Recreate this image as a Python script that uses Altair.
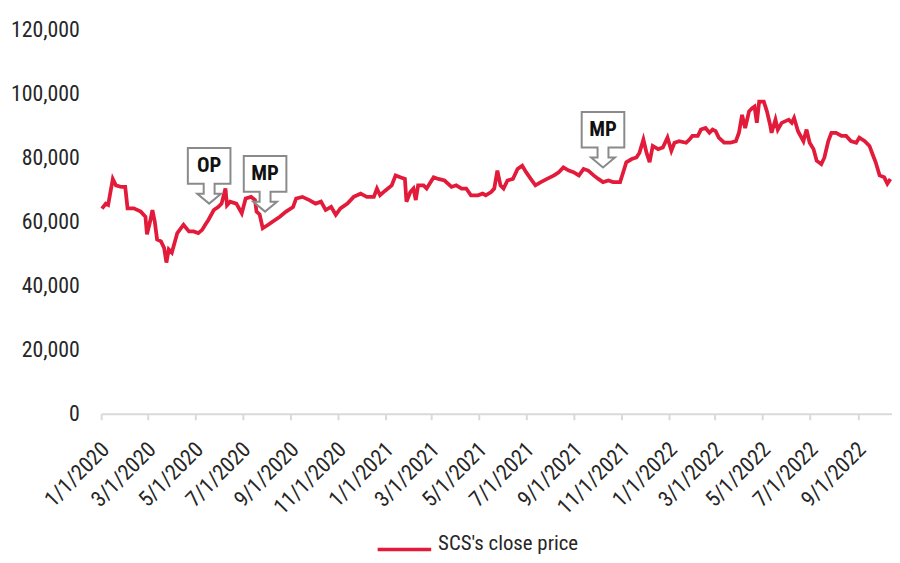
import altair as alt
import pandas as pd

# ---- data ----
start_date = "2020-01-01"
# days after 1/1/2020
day_offsets = [1, 6, 9, 15, 19, 26, 31, 34, 42, 51, 57, 59, 63, 66, 69, 72, 77, 81, 84, 87,
               91, 98, 106, 113, 119, 125, 130, 134, 138, 145, 151, 155, 160, 162, 166, 174, 181, 186, 193, 198,
               200, 204, 208, 215, 221, 230, 238, 247, 251, 259, 268, 276, 283, 289, 296, 302, 308, 317, 325, 334,
               342, 351, 355, 359, 366, 374, 379, 385, 391, 393, 398, 402, 405, 408, 415, 419, 428, 434, 442, 451,
               457, 464, 470, 476, 485, 491, 495, 502, 506, 510, 514, 518, 523, 530, 536, 542, 547, 553, 559, 566,
               574, 583, 589, 595, 602, 608, 615, 621, 627, 634, 640, 646, 653, 659, 668, 672, 676, 683, 689, 693,
               698, 702, 706, 710, 717, 723, 729, 734, 738, 744, 753, 757, 761, 768, 772, 778, 783, 787, 791, 795,
               802, 810, 817, 821, 825, 829, 834, 838, 841, 844, 847, 853, 857, 861, 863, 868, 871, 876, 885, 889,
               892, 897, 904, 908, 912, 917, 921, 927, 931, 936, 940, 946, 953, 959, 965, 972, 976, 983, 989, 993,
               997, 1002, 1008, 1012, 1016]
close_price = [64000, 65600, 65200, 73300, 71300, 70800, 70800, 64100, 64100, 63100, 61500, 56000, 60000, 63600, 60000, 54400, 53800, 51800, 47200, 51300,
               50300, 56400, 59000, 56900, 56900, 56400, 57400, 59000, 60500, 63600, 64600, 65600, 70300, 65100, 66200, 65600, 62600, 67200, 67700, 66700,
               63100, 62200, 57900, 59000, 60000, 61500, 63100, 64500, 67200, 67700, 66700, 65600, 66200, 63600, 64600, 62100, 64100, 65600, 67700, 68700,
               67700, 67700, 70300, 68200, 69700, 71300, 74400, 73800, 73300, 66200, 69200, 70300, 66700, 71300, 71300, 70300, 73800, 73300, 72800, 70800,
               71300, 70300, 70300, 68200, 68200, 68700, 68200, 69200, 70300, 75900, 71300, 70300, 72800, 73300, 76400, 77400, 75400, 73300, 71300, 72300,
               73300, 74400, 75400, 76900, 75900, 75400, 74400, 76400, 75900, 74400, 73300, 72300, 72800, 72300, 72300, 75400, 78500, 79500, 80000, 81500,
               85600, 81500, 78500, 83600, 82600, 83100, 86200, 82100, 84600, 85100, 84600, 85500, 86700, 86700, 88700, 89200, 87700, 88700, 88200, 86200,
               84600, 84600, 85100, 87700, 93300, 89200, 94400, 95400, 95900, 90800, 97400, 97400, 94400, 90300, 87700, 91800, 88700, 90800, 91800, 90800,
               92300, 88200, 85100, 88700, 84600, 82600, 79000, 77900, 80000, 85100, 87700, 87700, 86700, 86700, 85100, 84600, 86200, 85100, 83600, 81000,
               78500, 74400, 73800, 71800, 73300]
series_name = "SCS's close price"

x_tick_dates = ["2020-01-01", "2020-03-01", "2020-05-01", "2020-07-01", "2020-09-01", "2020-11-01",
                "2021-01-01", "2021-03-01", "2021-05-01", "2021-07-01", "2021-09-01", "2021-11-01",
                "2022-01-01", "2022-03-01", "2022-05-01", "2022-07-01", "2022-09-01"]
x_domain = ["2020-01-01", "2022-10-15"]
y_ticks = [0, 20000, 40000, 60000, 80000, 100000, 120000]

callout_labels = ["OP", "MP", "MP"]
callout_dates = ["2020-05-19", "2020-07-30", "2021-10-08"]
callout_values = [65600, 63100, 76900]

# ---- build tables ----
dates = (pd.Timestamp(start_date) + pd.to_timedelta(day_offsets, unit="D")).strftime("%Y-%m-%d")
df = pd.DataFrame({"date": list(dates), "close": close_price, "series": series_name})
callouts = pd.DataFrame({"date": callout_dates, "close": callout_values, "label": callout_labels})


def dt(s):
    y, m, d = (int(p) for p in s.split("-"))
    return alt.DateTime(year=y, month=m, date=d, utc=True)


FONT = "Roboto Condensed, Roboto, sans-serif"
RED = "#E31B3B"
TXT = "#262626"

x_enc = alt.X(
    "date:T",
    scale=alt.Scale(type="utc", domain=[dt(x_domain[0]), dt(x_domain[1])]),
    axis=alt.Axis(
        title=None, values=[dt(s) for s in x_tick_dates],
        labelExpr="utcFormat(datum.value, '%-m/%-d/%Y')",
        labelAngle=-45, labelAlign="right", labelBaseline="middle", labelPadding=26, labelOffset=4,
        labelFontSize=22, labelFont=FONT, labelColor=TXT,
        domainColor="#d9d9d9", domainWidth=2, tickColor="#d9d9d9", tickWidth=2, tickSize=6,
        grid=False, labelOverlap=False,
    ),
)
y_enc = alt.Y(
    "close:Q",
    scale=alt.Scale(domain=[0, 120000], nice=False),
    axis=alt.Axis(
        title=None, values=y_ticks, labelExpr="format(datum.value, ',')",
        grid=False, domain=False, ticks=False,
        labelPadding=22, labelFontSize=22, labelFont=FONT, labelColor=TXT,
    ),
)

line = alt.Chart(df).mark_line(strokeWidth=3.8).encode(
    x=x_enc,
    y=y_enc,
    color=alt.Color(
        "series:N",
        scale=alt.Scale(range=[RED]),
        legend=alt.Legend(
            title=None, orient="none", legendX=277, legendY=496,
            symbolType="stroke", symbolSize=2916, symbolStrokeWidth=3.5,
            labelFontSize=21, labelFont=FONT, labelColor=TXT, labelOffset=5,
            labelBaseline="alphabetic",
        ),
    ),
)

callout_shape = ("M -21.5 -56 L 21.5 -56 L 21.5 -20 L 5.5 -20 L 5.5 -10 L 12 -10 L 0 0 "
                 "L -12 -10 L -5.5 -10 L -5.5 -20 L -21.5 -20 Z")

boxes = alt.Chart(callouts).mark_point(
    shape=callout_shape, size=4, filled=True, fill="white", fillOpacity=1, opacity=1,
    stroke="#8a8a8a", strokeWidth=2,
).encode(x=x_enc, y=y_enc)

texts = alt.Chart(callouts).mark_text(
    dy=-38, fontSize=21, fontWeight="bold", font=FONT, color="#111111",
).encode(x=x_enc, y=y_enc, text="label:N")

chart = alt.layer(line, boxes, texts).properties(
    width=798, height=388,
    autosize=alt.AutoSizeParams(type="none"),
    padding={"left": 94, "top": 19, "right": 0, "bottom": 140},
).configure_view(stroke=None)

chart.save("out.html", embed_options={"renderer": "svg", "actions": False})
